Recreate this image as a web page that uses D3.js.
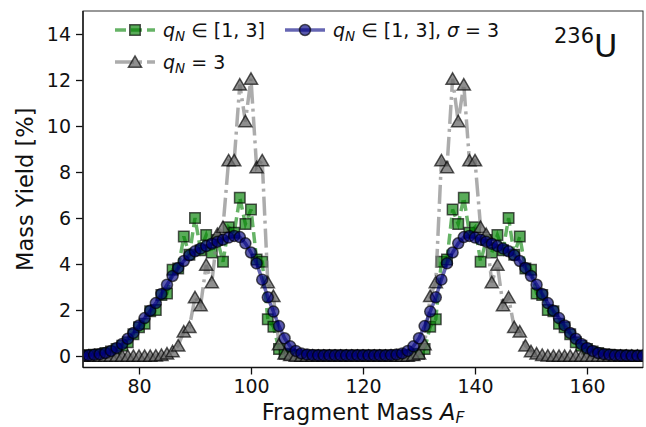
<!DOCTYPE html>
<html>
<head>
<meta charset="utf-8">
<script src="https://cdn.jsdelivr.net/npm/d3@7"></script>
<style>
  body { margin: 0; background: #fff; }
  svg { font-family: "DejaVu Sans", sans-serif; }
</style>
</head>
<body>
<script>
/*
DATA
*/
// fragment mass numbers A = 70 ... 170
const masses = d3.range(70, 171)

// q_N in [1,3]
const yieldRange = [
  0.02, 0.03, 0.05, 0.08, 0.13, 0.20, 0.30, 0.45, 0.60, 0.95,
  1.25, 1.40, 1.95, 2.00, 2.65, 2.72, 3.75, 3.80, 5.20, 4.40,
  6.00, 4.60, 5.26, 4.50, 5.04, 4.10, 5.60, 5.36, 6.88, 5.74,
  6.37, 4.20, 4.10, 1.60, 1.27, 0.30, 0.10, 0.05, 0.02, 0.02,
  0.02, 0.02, 0.02, 0.02, 0.02, 0.02, 0.02, 0.02, 0.02, 0.02,
  0.02, 0.02, 0.02, 0.02, 0.02, 0.02, 0.02, 0.02, 0.02, 0.05,
  0.10, 0.30, 1.27, 1.60, 4.10, 4.20, 6.37, 5.74, 6.88, 5.36,
  5.60, 4.10, 5.04, 4.50, 5.26, 4.60, 6.00, 4.40, 5.20, 3.80,
  3.75, 2.72, 2.65, 2.00, 1.95, 1.40, 1.25, 0.95, 0.60, 0.45,
  0.30, 0.20, 0.13, 0.08, 0.05, 0.03, 0.02, 0.02, 0.01, 0.01,
  0.01
]

// q_N = 3
const yieldFixed = [
  0.00, 0.00, 0.00, 0.00, 0.00, 0.00, 0.00, 0.00, 0.00, 0.00,
  0.00, 0.00, 0.00, 0.01, 0.04, 0.10, 0.20, 0.45, 1.06, 1.25,
  2.55, 2.20, 3.96, 3.20, 5.30, 5.60, 8.50, 8.50, 11.80, 10.20,
  12.05, 8.20, 8.50, 3.20, 2.60, 0.50, 0.10, 0.03, 0.00, 0.00,
  0.00, 0.00, 0.00, 0.00, 0.00, 0.00, 0.00, 0.00, 0.00, 0.00,
  0.00, 0.00, 0.00, 0.00, 0.00, 0.00, 0.00, 0.00, 0.00, 0.03,
  0.10, 0.50, 2.60, 3.20, 8.50, 8.20, 12.05, 10.20, 11.80, 8.50,
  8.50, 5.60, 5.30, 3.20, 3.96, 2.20, 2.55, 1.25, 1.06, 0.45,
  0.20, 0.10, 0.04, 0.01, 0.00, 0.00, 0.00, 0.00, 0.00, 0.00,
  0.00, 0.00, 0.00, 0.00, 0.00, 0.00, 0.00, 0.00, 0.00, 0.00,
  0.00
]

// q_N in [1,3], sigma = 3
const yieldSmooth = [
  0.02, 0.03, 0.05, 0.08, 0.13, 0.22, 0.35, 0.52, 0.75, 1.00,
  1.33, 1.65, 1.97, 2.30, 2.70, 3.10, 3.48, 3.83, 4.13, 4.38,
  4.55, 4.67, 4.78, 4.88, 4.97, 5.06, 5.15, 5.22, 5.17, 4.90,
  4.50, 4.03, 3.32, 2.55, 1.93, 1.30, 0.77, 0.42, 0.22, 0.11,
  0.06, 0.04, 0.03, 0.03, 0.03, 0.03, 0.03, 0.03, 0.03, 0.03,
  0.03, 0.03, 0.03, 0.03, 0.03, 0.04, 0.06, 0.11, 0.22, 0.42,
  0.77, 1.30, 1.93, 2.55, 3.32, 4.03, 4.50, 4.90, 5.17, 5.22,
  5.15, 5.06, 4.97, 4.88, 4.78, 4.67, 4.55, 4.38, 4.13, 3.83,
  3.48, 3.10, 2.70, 2.30, 1.97, 1.65, 1.33, 1.00, 0.75, 0.52,
  0.35, 0.22, 0.13, 0.08, 0.05, 0.03, 0.02, 0.02, 0.01, 0.01,
  0.01
]

const xTicks = [80, 100, 120, 140, 160]
const yTicks = [0, 2, 4, 6, 8, 10, 12, 14]

/*
SET UP
*/
const w = 646
const h = 427
const m = ({top: 11, right: 3, bottom: 59.5, left: 83})

const svg = d3.select("body")
  .append("svg")
  .attr("width", w)
  .attr("height", h)

const x = d3.scaleLinear()
  .domain([70, 170])
  .range([m.left, w - m.right])

const y = d3.scaleLinear()
  .domain([-0.5, 15])
  .range([h - m.bottom, m.top])

svg.append("clipPath")
  .attr("id", "plot-clip")
  .append("rect")
  .attr("x", m.left)
  .attr("y", m.top)
  .attr("width", w - m.left - m.right)
  .attr("height", h - m.top - m.bottom)

/*
SERIES STYLES
*/
const series = [
  { name: "range", values: yieldRange, marker: "square",
    line: "rgba(0,128,0,0.6)", dash: "11,5", fill: "rgba(0,128,0,0.65)" },
  { name: "fixed", values: yieldFixed, marker: "triangle",
    line: "rgba(128,128,128,0.65)", dash: "19,5,3,5", fill: "rgba(105,105,105,0.75)" },
  { name: "smooth", values: yieldSmooth, marker: "circle",
    line: "rgba(0,0,128,0.6)", dash: null, fill: "rgba(0,0,128,0.65)" }
]

const symbolFor = {
  square: d3.symbol().type(d3.symbolSquare).size(110),
  triangle: d3.symbol().type(d3.symbolTriangle).size(75),
  circle: d3.symbol().type(d3.symbolCircle).size(95)
}

/*
DRAW SERIES
*/
const plot = svg.append("g")
  .attr("clip-path", "url(#plot-clip)")

const line = d3.line()
  .x((d, i) => x(masses[i]))
  .y((d) => y(d))

series.forEach((s) => {
  const g = plot.append("g").attr("class", s.name)

  g.append("path")
    .datum(s.values)
    .attr("d", line)
    .attr("fill", "none")
    .attr("stroke", s.line)
    .attr("stroke-width", 3.5)
    .attr("stroke-dasharray", s.dash)

  g.selectAll(".pt")
    .data(s.values)
    .join("path")
    .attr("class", "pt")
    .attr("transform", (d, i) => `translate(${x(masses[i])},${y(d) + (s.marker === "triangle" ? 1.5 : 0)})`)
    .attr("d", symbolFor[s.marker])
    .attr("fill", s.fill)
    .attr("stroke", "rgba(0,0,0,0.65)")
    .attr("stroke-width", 1.5)
})

/*
AXES
*/
const xAxis = svg.append("g")
  .attr("transform", `translate(0,${h - m.bottom})`)

xAxis.call(d3.axisBottom(x).tickValues(d3.range(70, 171, 5)).tickFormat("").tickSize(4))
xAxis.call(d3.axisBottom(x).tickValues(xTicks).tickSize(7).tickPadding(5))
xAxis.selectAll("path.domain").remove()
xAxis.selectAll("text")
  .attr("font-size", 19)
  .attr("fill", "#111")
  .attr("font-family", "DejaVu Sans")
xAxis.selectAll("line").attr("stroke", "#111").attr("stroke-width", 1.3)

const yAxis = svg.append("g")
  .attr("transform", `translate(${m.left},0)`)

yAxis.call(d3.axisLeft(y).tickValues(d3.range(0, 15, 1)).tickFormat("").tickSize(4))
yAxis.call(d3.axisLeft(y).tickValues(yTicks).tickSize(7).tickPadding(5))
yAxis.selectAll("path.domain").remove()
yAxis.selectAll("text")
  .attr("font-size", 19)
  .attr("fill", "#111")
  .attr("font-family", "DejaVu Sans")
yAxis.selectAll("line").attr("stroke", "#111").attr("stroke-width", 1.3)

// frame
svg.append("rect")
  .attr("x", m.left)
  .attr("y", m.top)
  .attr("width", w - m.left - m.right)
  .attr("height", h - m.top - m.bottom)
  .attr("fill", "none")
  .attr("stroke", "#333")
  .attr("stroke-width", 1)

svg.append("line")
  .attr("x1", m.left).attr("x2", m.left)
  .attr("y1", m.top).attr("y2", h - m.bottom)
  .attr("stroke", "#222").attr("stroke-width", 1.6)

svg.append("line")
  .attr("x1", m.left).attr("x2", w - m.right)
  .attr("y1", h - m.bottom).attr("y2", h - m.bottom)
  .attr("stroke", "#111").attr("stroke-width", 1.6)

/*
AXIS LABELS
*/
const xLabel = svg.append("text")
  .attr("x", (m.left + w - m.right) / 2)
  .attr("y", 420)
  .attr("text-anchor", "middle")
  .attr("font-size", 22.5)
  .attr("fill", "#111")
xLabel.append("tspan").text("Fragment Mass ")
xLabel.append("tspan").attr("font-style", "italic").text("A")
xLabel.append("tspan").attr("font-style", "italic").attr("font-size", 15.5).attr("dy", 3).text("F")

svg.append("text")
  .attr("transform", `translate(33,${(m.top + h - m.bottom) / 2}) rotate(-90)`)
  .attr("text-anchor", "middle")
  .attr("font-size", 22.5)
  .attr("fill", "#111")
  .text("Mass Yield [%]")

/*
LEGEND
*/
const legendItems = [
  { s: series[0], x: 163, y: 30, tail: " \u2208 [1, 3]" },
  { s: series[1], x: 163, y: 62, tail: " = 3" },
  { s: series[2], x: 333, y: 30, tail: " \u2208 [1, 3], " , sigma: true }
]

const legend = svg.append("g")

legendItems.forEach((it) => {
  legend.append("line")
    .attr("x1", it.x - 48).attr("x2", it.x - 8)
    .attr("y1", it.y).attr("y2", it.y)
    .attr("stroke", it.s.line)
    .attr("stroke-width", 3.5)
    .attr("stroke-dasharray", it.s.dash)

  legend.append("path")
    .attr("transform", `translate(${it.x - 28},${it.y + (it.s.marker === "triangle" ? 1.5 : 0)})`)
    .attr("d", symbolFor[it.s.marker])
    .attr("fill", it.s.fill)
    .attr("stroke", "rgba(0,0,0,0.65)")
    .attr("stroke-width", 1.5)

  const t = legend.append("text")
    .attr("x", it.x)
    .attr("y", it.y + 7)
    .attr("font-size", 19)
    .attr("fill", "#111")
  t.append("tspan").attr("font-style", "italic").text("q")
  t.append("tspan").attr("font-style", "italic").attr("font-size", 13.5).attr("dy", 4).text("N")
  t.append("tspan").attr("dy", -4).text(it.tail)
  if (it.sigma) {
    t.append("tspan").attr("font-style", "italic").text("\u03c3")
    t.append("tspan").text(" = 3")
  }
})

// nucleus label
const nucleus = svg.append("text")
  .attr("x", 554)
  .attr("y", 57)
  .attr("fill", "#111")
nucleus.append("tspan").attr("font-size", 21).attr("dy", -14).text("236")
nucleus.append("tspan").attr("font-size", 32).attr("dy", 14).text("U")
</script>
</body>
</html>
